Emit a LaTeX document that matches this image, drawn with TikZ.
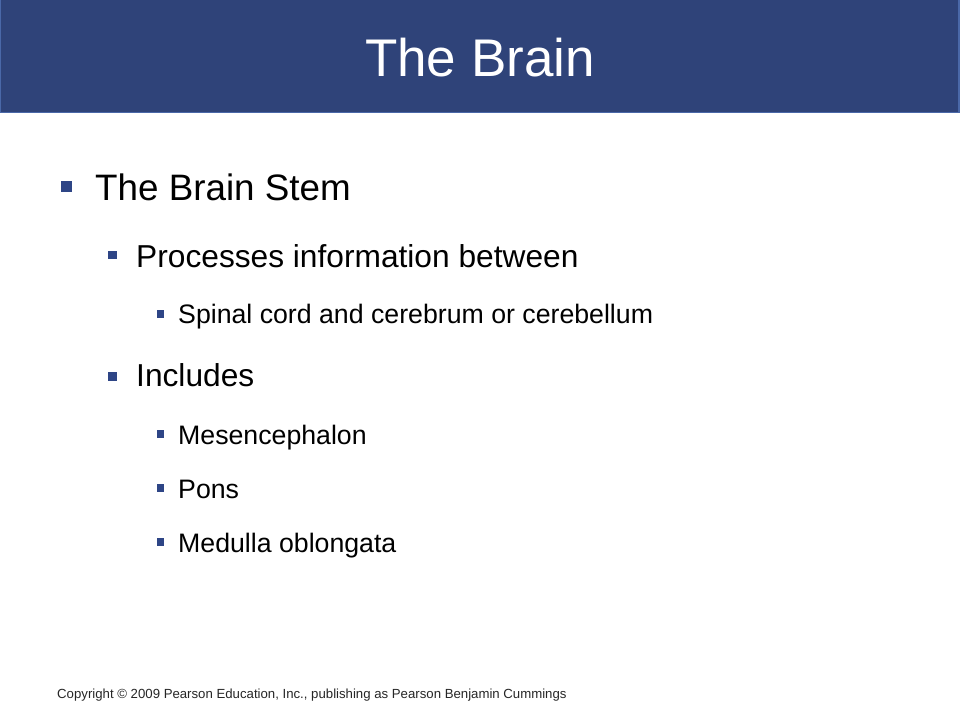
\documentclass[tikz,border=0pt]{standalone}
\usepackage{fontspec}
\setmainfont{Liberation Sans}
\definecolor{barblue}{HTML}{2F4379}
\definecolor{barline}{HTML}{4A68A8}
\definecolor{bulblue}{HTML}{2E4586}
\tikzset{
  titletext/.style={text=white,font=\fontsize{53}{60}\selectfont,anchor=base,inner sep=0pt},
  lvlone/.style={anchor=base west,inner sep=0pt,font=\fontsize{36.8}{42}\selectfont},
  lvltwo/.style={anchor=base west,inner sep=0pt,font=\fontsize{31.7}{36}\selectfont},
  lvlthree/.style={anchor=base west,inner sep=0pt,font=\fontsize{26.7}{30}\selectfont},
  foot/.style={anchor=base west,inner sep=0pt,font=\fontsize{13.2}{16}\selectfont,text=black!85},
  bulone/.style={fill=bulblue,draw=none,minimum size=11pt,inner sep=0pt},
  bultwo/.style={fill=bulblue,draw=none,minimum size=8.5pt,inner sep=0pt},
  bulthree/.style={fill=bulblue,draw=none,minimum size=7.5pt,inner sep=0pt}
}
\begin{document}
\begin{tikzpicture}[x=1pt,y=-1pt]
\useasboundingbox (0,0) rectangle (960,720);
\fill[white] (0,0) rectangle (960,720);
\draw[fill=barblue,draw=barline,line width=1.2pt] (0.6,-2) rectangle (959,112.5);
\node[titletext] (title) at (480,76) {The Brain};
% level 1
\node[bulone] (b1) at (66.5,186) {};
\node[lvlone] (t1) at (95,200) {The Brain Stem};
% level 2
\node[bultwo] (b2) at (112.5,255) {};
\node[lvltwo] (t2) at (136,267) {Processes information between};
\node[bulthree] (b3) at (160.5,314) {};
\node[lvlthree] (t3) at (178,323) {Spinal cord and cerebrum or cerebellum};
\node[bultwo] (b4) at (112.5,376.5) {};
\node[lvltwo] (t4) at (136,386) {Includes};
\node[bulthree] (b5) at (160.5,434) {};
\node[lvlthree] (t5) at (178,444) {Mesencephalon};
\node[bulthree] (b6) at (160.5,488) {};
\node[lvlthree] (t6) at (178,498) {Pons};
\node[bulthree] (b7) at (160.5,542) {};
\node[lvlthree] (t7) at (178,552) {Medulla oblongata};
\node[foot] (copy) at (57,698) {Copyright \textcopyright{} 2009 Pearson Education, Inc., publishing as Pearson Benjamin Cummings};
\end{tikzpicture}
\end{document}
